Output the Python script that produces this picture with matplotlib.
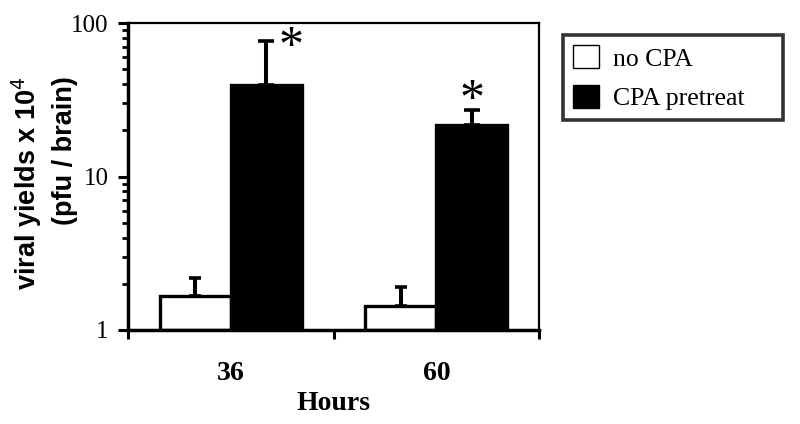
import numpy as np
import matplotlib
matplotlib.use("Agg")
import matplotlib.pyplot as plt
from matplotlib.ticker import LogLocator, NullFormatter, FixedLocator

categories = ["36", "60"]
series_names = ["no CPA", "CPA pretreat"]
no_cpa = [1.67, 1.435]
no_cpa_err_top = [2.19, 1.91]
cpa = [39.3, 21.5]
cpa_err_top = [76.0, 27.0]
yticks = [1, 10, 100]
ytick_labels = ["1", "10", "100"]
star_offsets = [(18, -1), (0, 10.5)]  # points, asterisk position relative to error-bar top

serif = "Liberation Serif"
sans = "Liberation Sans"

fig = plt.figure(figsize=(8, 4.24), dpi=100)
ax = fig.add_axes([0.16, 0.2217, 0.514, 0.724])

x = np.arange(len(categories))
w = 0.345
xw = x - w / 2
xb = x + w / 2

nc = np.array(no_cpa)
cp = np.array(cpa)
ax.bar(xw, nc - 1, bottom=1, width=w, color="white", edgecolor="black",
       linewidth=2.4, label=series_names[0], zorder=2)
ax.bar(xb, cp - 1, bottom=1, width=w, color="black", edgecolor="black",
       linewidth=2.4, label=series_names[1], zorder=2)

ax.errorbar(xw, nc, yerr=[np.zeros(2), np.array(no_cpa_err_top) - nc],
            fmt="none", ecolor="black", elinewidth=2.9, capsize=4,
            capthick=2.6, zorder=1)
ax.errorbar(xb, cp, yerr=[np.zeros(2), np.array(cpa_err_top) - cp],
            fmt="none", ecolor="black", elinewidth=2.9, capsize=6,
            capthick=2.6, zorder=1)

for xi, top, off in zip(xb, cpa_err_top, star_offsets):
    ax.annotate("*", xy=(xi, top), xytext=off, textcoords="offset points",
                ha="center", va="center_baseline", fontsize=36, family=serif)

ax.set_yscale("log")
ax.set_ylim(1, 100)
ax.set_xlim(-0.5, 1.5)
ax.yaxis.set_major_locator(FixedLocator(yticks))
ax.set_yticklabels(ytick_labels, family=serif, fontsize=18)
ax.yaxis.set_minor_locator(LogLocator(base=10, subs=np.arange(2, 10)))
ax.yaxis.set_minor_formatter(NullFormatter())
ax.tick_params(axis="y", which="major", direction="out", length=7, width=2.2, pad=7)
ax.tick_params(axis="y", which="minor", direction="out", length=4.5, width=2.0)

ax.xaxis.set_major_locator(FixedLocator([-0.5, 0.5, 1.5]))
ax.set_xticklabels([])
ax.xaxis.set_minor_locator(FixedLocator(list(x)))
ax.set_xticklabels(categories, minor=True, family=serif, fontsize=20, fontweight="bold")
ax.tick_params(axis="x", which="major", direction="out", length=6.5, width=2.2)
ax.tick_params(axis="x", which="minor", length=0, pad=22)

ax.set_xlabel("Hours", family=serif, fontsize=20, fontweight="bold", labelpad=4)
ax.set_ylabel("viral yields x 10$^{4}$\n(pfu / brain)", family=sans,
              fontsize=19.5, fontweight="bold", linespacing=1.4)
ax.yaxis.label.set_multialignment("right")
ax.yaxis.set_label_coords(-0.122, 0.479)

for s in ["left", "bottom"]:
    ax.spines[s].set_linewidth(2.5)
for s in ["top", "right"]:
    ax.spines[s].set_linewidth(1.6)

leg = ax.legend(loc="upper left", mode="expand",
                bbox_to_anchor=(563 / 800, 1 - 120 / 424, 220 / 800, 85 / 424),
                bbox_transform=fig.transFigure, frameon=True, fancybox=False,
                edgecolor="black", prop={"family": serif, "size": 18.5},
                handlelength=1.0, handleheight=1.0, handletextpad=0.55,
                borderpad=0.4, labelspacing=0.55, borderaxespad=0)
leg.get_frame().set_linewidth(2.6)
for h in leg.legend_handles:
    h.set_linewidth(1.0)

fig.savefig("out.png", dpi=100)
